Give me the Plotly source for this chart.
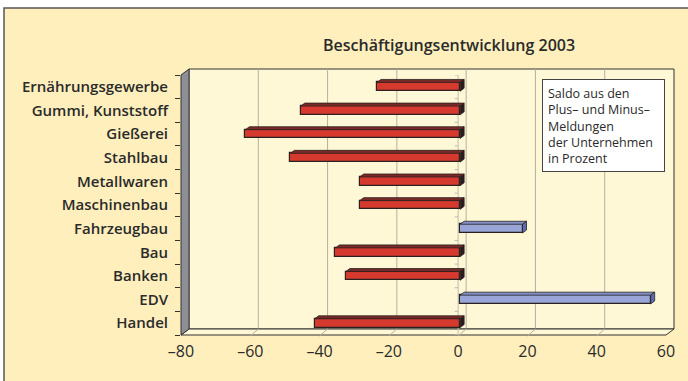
import plotly.graph_objects as go

# Employment balance 2003 by sector (share of plus minus minus reports, in percent)
categories = ["Ernährungsgewerbe", "Gummi, Kunststoff", "Gießerei", "Stahlbau",
              "Metallwaren", "Maschinenbau", "Fahrzeugbau", "Bau", "Banken",
              "EDV", "Handel"]
values = [-24, -46, -62, -49, -29, -29, 18, -36, -33, 55, -42]
x_ticks = [-80, -60, -40, -20, 0, 20, 40, 60]
x_ticktext = ["–80", "–60", "–40", "–20", "0", "20", "40", "60"]

title_text = "Beschäftigungsentwicklung 2003"
note_lines = ["Saldo aus den", "Plus– und Minus–", "Meldungen",
              "der Unternehmen", "in Prozent"]

# page geometry (pixels)
WIDTH, HEIGHT = 688, 381
L, R, T, B = 181, 666, 75, 335     # front face of the 3D box
BAR_SHIFT = 2                      # bars sit slightly behind the front face
PR = R + BAR_SHIFT                 # right edge of the plotting area
PW, PH = PR - L, B - T
AW = R - L                         # width of the front axis
DX, DY = 8, 6                      # depth of the 3D box
BAR_DX, BAR_DY = 4, 3              # depth of each bar
BAR_W = 0.37

XMIN, XMAX = x_ticks[0], x_ticks[-1]
n = len(categories)
ypos = [n - 1 - i for i in range(n)]


def px(xp):
    return (xp - L) / PW


def py(yp):
    return (B - yp) / PH


def front_x(v):
    return L + (v - XMIN) / (XMAX - XMIN) * AW


ux = BAR_DX / AW * (XMAX - XMIN)      # bar depth in x data units
uy = BAR_DY / PH * n                  # bar depth in y data units

RED, RED_TOP, RED_SIDE = "#d63a2e", "#7a2a26", "#2a1c1c"
BLUE, BLUE_TOP, BLUE_SIDE = "#98a5d6", "#8290c6", "#5b6db0"
EDGE = "#2a2222"

fig = go.Figure()

# top and side faces of each bar
for v, y in zip(values, ypos):
    x0, x1 = min(0, v), max(0, v)
    yt, yb = y + BAR_W / 2, y - BAR_W / 2
    top_c, side_c = (RED_TOP, RED_SIDE) if v < 0 else (BLUE_TOP, BLUE_SIDE)
    fig.add_trace(go.Scatter(
        x=[x0, x1, x1 + ux, x0 + ux, x0], y=[yt, yt, yt + uy, yt + uy, yt],
        xaxis="x2", fill="toself", fillcolor=top_c, mode="lines",
        line=dict(color=EDGE, width=0.8), hoverinfo="skip", showlegend=False))
    fig.add_trace(go.Scatter(
        x=[x1, x1 + ux, x1 + ux, x1, x1], y=[yt, yt + uy, yb + uy, yb, yt],
        xaxis="x2", fill="toself", fillcolor=side_c, mode="lines",
        line=dict(color=EDGE, width=0.8), hoverinfo="skip", showlegend=False))

# front faces of the bars
fig.add_trace(go.Bar(
    x=values, y=ypos, orientation="h", width=BAR_W, xaxis="x2",
    marker=dict(color=[RED if v < 0 else BLUE for v in values],
                line=dict(color=EDGE, width=1.2)),
    hoverinfo="skip", showlegend=False))

shapes = []
# outer panel
shapes.append(dict(type="rect", xref="paper", yref="paper", layer="below",
                   x0=px(4), x1=px(WIDTH + 20), y0=py(8), y1=py(HEIGHT + 20),
                   fillcolor="#feefbd", line=dict(color="#555555", width=1.5)))
# back wall
shapes.append(dict(type="rect", xref="paper", yref="paper", layer="below",
                   x0=px(L + DX), x1=px(R + DX), y0=py(B - DY), y1=py(T - DY),
                   fillcolor="#fff8d6", line=dict(color="#333333", width=1)))
# grid lines on the back wall
for v in x_ticks[1:-1]:
    xv = front_x(v) + DX
    shapes.append(dict(type="line", xref="paper", yref="paper", layer="below",
                       x0=px(xv), x1=px(xv), y0=py(B - DY), y1=py(T - DY),
                       line=dict(color="#b4b0a0", width=1)))
# floor
shapes.append(dict(type="path", xref="paper", yref="paper", layer="below",
                   path=f"M {px(L)} {py(B)} L {px(L + DX)} {py(B - DY)} "
                        f"L {px(R + DX)} {py(B - DY)} L {px(R)} {py(B)} Z",
                   fillcolor="#fff8d6", line=dict(color="#333333", width=1)))
# floor ticks
for v in x_ticks[1:-1]:
    xv = front_x(v)
    shapes.append(dict(type="line", xref="paper", yref="paper", layer="below",
                       x0=px(xv), x1=px(xv + DX), y0=py(B + 1), y1=py(B - DY),
                       line=dict(color="#b4b0a0", width=1)))
# left wall
shapes.append(dict(type="path", xref="paper", yref="paper", layer="below",
                   path=f"M {px(L)} {py(B)} L {px(L)} {py(T)} "
                        f"L {px(L + DX)} {py(T - DY)} L {px(L + DX)} {py(B - DY)} Z",
                   fillcolor="#8e8e96", line=dict(color="#333333", width=1)))
# zero line with small category ticks
shapes.append(dict(type="line", xref="x", yref="y", layer="below",
                   x0=0, x1=0, y0=-0.5, y1=n - 0.5,
                   line=dict(color="#c0bcb0", width=1)))
for k in range(n + 1):
    shapes.append(dict(type="line", xref="x", yref="y", layer="below",
                       x0=-1, x1=0, y0=k - 0.5, y1=k - 0.5,
                       line=dict(color="#c0bcb0", width=1)))

FONT = "Open Sans"
annotations = [
    dict(text=title_text, xref="paper", yref="paper", x=px(449), y=py(45),
         xanchor="center", yanchor="middle", showarrow=False,
         font=dict(family=FONT, size=16, color="#2a2a2a", weight=600)),
    dict(text="<br>".join(note_lines), xref="paper", yref="paper",
         x=px(542), y=py(79), xanchor="left", yanchor="top", showarrow=False,
         align="left", valign="top", width=111, height=81, borderpad=5,
         bgcolor="#ffffff", bordercolor="#444444", borderwidth=1,
         font=dict(family=FONT, size=12.5, color="#2a2a2a")),
]

fig.update_layout(
    width=WIDTH, height=HEIGHT,
    margin=dict(l=L, r=WIDTH - PR, t=T, b=HEIGHT - B, pad=0),
    paper_bgcolor="#ffffff", plot_bgcolor="rgba(0,0,0,0)",
    shapes=shapes, annotations=annotations, bargap=0,
    xaxis=dict(range=[XMIN, XMAX], domain=[0, AW / PW],
               tickvals=x_ticks, ticktext=x_ticktext, ticks="",
               ticklabelstandoff=5,
               showgrid=False, zeroline=False, showline=False,
               tickfont=dict(family=FONT, size=16, color="#2a2a2a", weight=500)),
    xaxis2=dict(range=[XMIN, XMAX], domain=[BAR_SHIFT / PW, 1], anchor="y",
                visible=False, showgrid=False, zeroline=False),
    yaxis=dict(range=[-0.5, n - 0.5], tickvals=ypos, ticktext=categories,
               ticks="", showgrid=False, zeroline=False, showline=False,
               ticklabelstandoff=12,
               minor=dict(tickvals=[k - 0.5 for k in range(n + 1)],
                          ticks="outside", ticklen=5, tickcolor="#333333",
                          tickwidth=1),
               tickfont=dict(family=FONT, size=15, color="#2a2a2a", weight=600)),
)

fig.write_html("out.html")
